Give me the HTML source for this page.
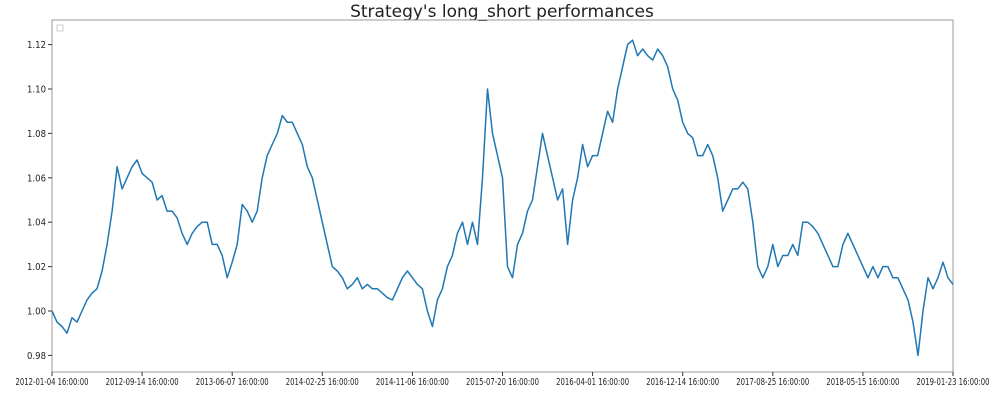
<!DOCTYPE html>
<html><head><meta charset="utf-8"><style>
body{margin:0;background:#fff;}
svg text{font-family:"DejaVu Sans","Liberation Sans",sans-serif;fill:#222;}
</style></head><body>
<svg id="chart" width="998" height="401">
<text x="502" y="17" text-anchor="middle" font-size="17">Strategy's long_short performances</text>
<rect x="57" y="25" width="6" height="6" fill="none" stroke="#ccc"/>
<g id="axes"></g>
</svg>
<script>
const values=[1.00,0.995,0.993,0.99,0.997,0.995,1.0,1.005,1.008,1.01,1.018,1.03,1.045,1.065,1.055,1.06,1.065,1.068,1.062,1.06,1.058,1.05,1.052,1.045,1.045,1.042,1.035,1.03,1.035,1.038,1.04,1.04,1.03,1.03,1.025,1.015,1.022,1.03,1.048,1.045,1.04,1.045,1.06,1.07,1.075,1.08,1.088,1.085,1.085,1.08,1.075,1.065,1.06,1.05,1.04,1.03,1.02,1.018,1.015,1.01,1.012,1.015,1.01,1.012,1.01,1.01,1.008,1.006,1.005,1.01,1.015,1.018,1.015,1.012,1.01,1.0,0.993,1.005,1.01,1.02,1.025,1.035,1.04,1.03,1.04,1.03,1.06,1.1,1.08,1.07,1.06,1.02,1.015,1.03,1.035,1.045,1.05,1.065,1.08,1.07,1.06,1.05,1.055,1.03,1.05,1.06,1.075,1.065,1.07,1.07,1.08,1.09,1.085,1.1,1.11,1.12,1.122,1.115,1.118,1.115,1.113,1.118,1.115,1.11,1.1,1.095,1.085,1.08,1.078,1.07,1.07,1.075,1.07,1.06,1.045,1.05,1.055,1.055,1.058,1.055,1.04,1.02,1.015,1.02,1.03,1.02,1.025,1.025,1.03,1.025,1.04,1.04,1.038,1.035,1.03,1.025,1.02,1.02,1.03,1.035,1.03,1.025,1.02,1.015,1.02,1.015,1.02,1.02,1.015,1.015,1.01,1.005,0.995,0.98,1.0,1.015,1.01,1.015,1.022,1.015,1.012];
const xTickLabels=["2012-01-04 16:00:00","2012-09-14 16:00:00","2013-06-07 16:00:00","2014-02-25 16:00:00","2014-11-06 16:00:00","2015-07-20 16:00:00","2016-04-01 16:00:00","2016-12-14 16:00:00","2017-08-25 16:00:00","2018-05-15 16:00:00","2019-01-23 16:00:00"];
const yTicks=[0.98,1.00,1.02,1.04,1.06,1.08,1.10,1.12];
const L=52,R=953,T=20,B=372;
const xs=i=>L+(R-L)*i/(values.length-1);
const ys=v=>311-(v-1.0)/0.02*44.4;
const NS="http://www.w3.org/2000/svg";
const g=document.getElementById('axes');
function mk(t,a){const e=document.createElementNS(NS,t);for(const k in a)e.setAttribute(k,a[k]);g.appendChild(e);return e;}
const fr=mk('rect',{x:L,y:T,width:R-L,height:B-T,fill:'none',stroke:'#999','stroke-width':1});


yTicks.forEach(v=>{
  const y=ys(v);
  const t=mk('line',{x1:L-4,x2:L,y1:y,y2:y,stroke:'#333'});
  
  
  const tx=mk('text',{x:L-6,y:y+3.5,'text-anchor':'end','font-size':'10',textLength:'19',lengthAdjust:'spacingAndGlyphs'});
  tx.textContent=v.toFixed(2);
  
  
});
const step=(values.length-1)/(xTickLabels.length-1);
xTickLabels.forEach((lab,k)=>{
  const x=xs(k*step);
  const t=mk('line',{x1:x,x2:x,y1:B,y2:B+4,stroke:'#333'});
  
  
  const tx=mk('text',{x:x-36.5,y:B+13,'font-size':'10',textLength:'73',lengthAdjust:'spacingAndGlyphs'});
  tx.textContent=lab;
  
  
});
const p=mk('polyline',{points:values.map((v,i)=>xs(i).toFixed(1)+','+ys(v).toFixed(1)).join(' '),fill:'none',stroke:'#1f77b4','stroke-width':1.5,'stroke-linejoin':'round'});


</script>
</body></html>
